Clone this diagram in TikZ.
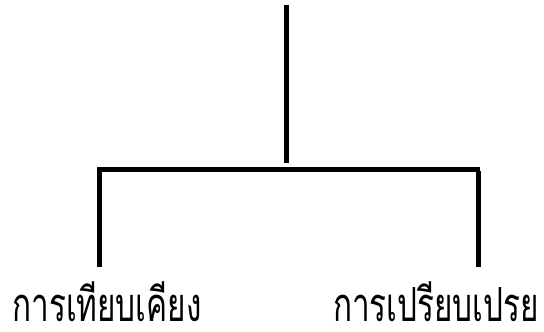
\documentclass[tikz,border=0pt]{standalone}
\usepackage{fontspec}
\newfontfamily\thaifont[Script=Thai]{Loma}
\begin{document}
\begin{tikzpicture}[x=1pt,y=-1pt,
  bar/.style={line width=5pt, line cap=butt, black},
  label/.style={font=\thaifont\fontsize{47}{50}\selectfont, anchor=base, inner sep=0pt, text depth=0pt, xscale=0.67}]
\useasboundingbox (0,0) rectangle (544,332);
\coordinate (top) at (286,5);
\coordinate (topend) at (286,163);
\coordinate (hl) at (97,169);
\coordinate (hr) at (480,169);
\coordinate (l1) at (99,171);
\coordinate (l2) at (99,267);
\coordinate (r1) at (478,171);
\coordinate (r2) at (478,267);
\draw[bar] (top) -- (topend);
\draw[bar] (hl) -- (hr);
\draw[bar] (l1) -- (l2);
\draw[bar] (r1) -- (r2);
\node[label] (left) at (107,321) {การเทียบเคียง};
\node[label] (right) at (436,321) {การเปรียบเปรย};
\end{tikzpicture}
\end{document}
